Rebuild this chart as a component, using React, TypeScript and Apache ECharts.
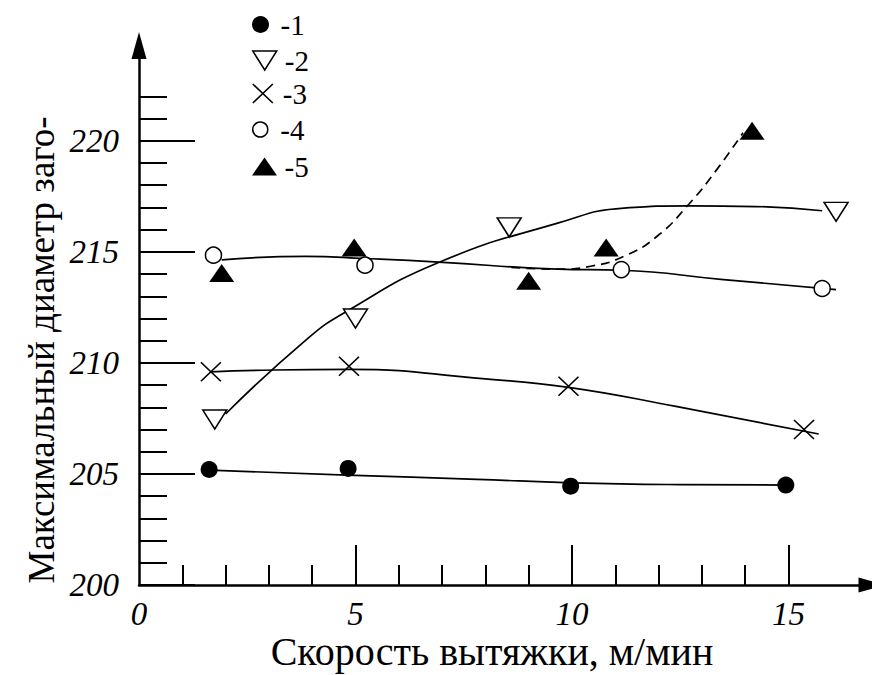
import React, { useEffect, useRef } from 'react';
import * as echarts from 'echarts';

// ---- Data ----
// Measured points (markers)
const s1X = [1.62, 4.83, 9.97, 14.94];
const s1Y = [205.2, 205.25, 204.45, 204.5];
const s2X = [1.75, 5.0, 8.55, 16.1];
const s2Y = [207.45, 212.0, 216.1, 216.8];
const s3X = [1.66, 4.85, 9.92, 15.36];
const s3Y = [209.6, 209.85, 208.95, 207.0];
const s4X = [1.72, 5.22, 11.14, 15.78];
const s4Y = [214.85, 214.4, 214.2, 213.35];
const s5X = [1.91, 4.97, 9.0, 10.79, 14.16];
const s5Y = [214.05, 215.2, 213.7, 215.2, 220.45];

// Fitted trend curves
const c1X = [1.62, 4.8, 7.8, 10.0, 12.5, 14.94];
const c1Y = [205.17, 204.95, 204.76, 204.6, 204.52, 204.5];
const c2X = [2.0, 3.86, 4.78, 6.92, 9.67, 11.2, 12.72, 14.25, 15.78];
const c2Y = [207.7, 211.04, 212.3, 214.52, 216.29, 216.97, 217.07, 217.04, 216.85];
const c3X = [1.66, 3.1, 4.85, 8.0, 9.92, 12.4, 15.7];
const c3Y = [209.6, 209.68, 209.71, 209.28, 208.9, 208.04, 206.8];
const c4X = [1.91, 3.86, 5.22, 6.92, 9.67, 11.14, 13.5, 16.1];
const c4Y = [214.64, 214.8, 214.7, 214.54, 214.22, 214.17, 213.75, 213.3];
const c5X = [8.6, 9.67, 10.43, 11.2, 11.96, 12.72, 13.34, 13.95];
const c5Y = [214.3, 214.22, 214.35, 214.8, 215.69, 217.19, 218.69, 220.36];

// Axis ticks / labels
const xLabelValues = [0, 5, 10, 15];
const xMajorTicks = [5, 10, 15];
const xMinorTicks = [1, 2, 3, 4, 6, 7, 8, 9, 11, 12, 13, 14];
const yLabelValues = [200, 205, 210, 215, 220];
const yMinorTicks = [201, 202, 203, 204, 206, 207, 208, 209, 211, 212, 213, 214, 216, 217, 218, 219, 221, 222];

const legendNames = ['-1', '-2', '-3', '-4', '-5'];
const xTitle = 'Скорость вытяжки, м/мин';
const yTitle = 'Максимальный диаметр заго-';

const X_MIN = 0;
const X_MAX = 16.93;
const Y_MIN = 200;
const Y_MAX = 224.29;

const FONT = 'Liberation Serif';
const TRI_DOWN = 'path://M0,0L24,0L12,19Z';
const TRI_UP = 'path://M12.5,0L25,18L0,18Z';
const CROSS = 'path://M0,0L20,19M20,0L0,19';

function pairs(xs: number[], ys: number[]) {
  return xs.map((x, i) => [x, ys[i]]);
}

export default function App() {
  const ref = useRef<HTMLDivElement>(null);

  useEffect(() => {
    if (!ref.current) return;
    const chart = echarts.init(ref.current, null, { renderer: 'svg' });
    const axisLineStyle = { color: '#000', width: 2.5 };
    const tickStyle = { color: '#000', width: 2 };

    const lineSeries = (data: number[][], dashed = false) => ({
      type: 'line',
      data,
      smooth: 0.5,
      symbol: 'none',
      showSymbol: false,
      silent: true,
      z: 2,
      lineStyle: { color: '#000', width: 1.7, type: dashed ? [9, 6] : 'solid' },
    });

    const rowY = [25, 61, 94, 130, 167];
    const legendIcons = [
      { icon: 'circle', h: 17, itemStyle: { color: '#000', borderWidth: 0 } },
      { icon: TRI_DOWN, h: 19, itemStyle: { color: '#fff', borderColor: '#000', borderWidth: 1.5 } },
      { icon: CROSS, h: 19, itemStyle: { color: '#000', borderColor: '#000', borderWidth: 1.6 } },
      { icon: 'circle', h: 15, itemStyle: { color: '#fff', borderColor: '#000', borderWidth: 1.5 } },
      { icon: TRI_UP, h: 18, itemStyle: { color: '#000', borderWidth: 0 } },
    ];

    const labelStyle = {
      fontFamily: FONT,
      fontStyle: 'italic',
      fontSize: 33,
      color: '#000',
    };

    const option: any = {
      animation: false,
      backgroundColor: '#fff',
      textStyle: { fontFamily: FONT },
      grid: { left: 139, top: 45.5, width: 737.5, height: 539.5, containLabel: false },
      legend: legendNames.map((name, i) => ({
        data: [{ name, icon: legendIcons[i].icon, itemStyle: legendIcons[i].itemStyle }],
        left: 252,
        top: rowY[i] - 15,
        itemWidth: 30,
        itemHeight: legendIcons[i].h,
        padding: 0,
        selectedMode: false,
        symbolKeepAspect: true,
        textStyle: { fontFamily: FONT, fontSize: 29, color: '#000' },
      })),
      xAxis: [
        {
          type: 'value',
          min: X_MIN,
          max: X_MAX,
          position: 'bottom',
          axisLine: {
            show: true,
            onZero: false,
            symbol: ['none', 'triangle'],
            symbolSize: [15, 27],
            lineStyle: axisLineStyle,
          },
          axisTick: { show: true, inside: true, length: 20, customValues: xMinorTicks, lineStyle: tickStyle },
          axisLabel: { customValues: xLabelValues, margin: 12, ...labelStyle },
          splitLine: { show: false },
        },
        {
          type: 'value',
          min: X_MIN,
          max: X_MAX,
          position: 'bottom',
          axisLine: { show: false, onZero: false },
          axisTick: { show: true, inside: true, length: 40, customValues: xMajorTicks, lineStyle: tickStyle },
          axisLabel: { show: false },
          splitLine: { show: false },
        },
      ],
      yAxis: [
        {
          type: 'value',
          min: Y_MIN,
          max: Y_MAX,
          position: 'left',
          axisLine: {
            show: true,
            onZero: false,
            symbol: ['none', 'triangle'],
            symbolSize: [15, 27],
            lineStyle: axisLineStyle,
          },
          axisTick: { show: true, inside: true, length: 56, customValues: yLabelValues, lineStyle: tickStyle },
          axisLabel: { customValues: yLabelValues, margin: 20, ...labelStyle },
          splitLine: { show: false },
        },
        {
          type: 'value',
          min: Y_MIN,
          max: Y_MAX,
          position: 'left',
          axisLine: { show: false, onZero: false },
          axisTick: { show: true, inside: true, length: 28, customValues: yMinorTicks, lineStyle: tickStyle },
          axisLabel: { show: false },
          splitLine: { show: false },
        },
      ],
      graphic: [
        {
          type: 'text',
          x: 492,
          y: 651,
          style: {
            text: xTitle,
            fontFamily: FONT,
            fontSize: 40,
            fill: '#000',
            textAlign: 'center',
            textVerticalAlign: 'middle',
          },
        },
        {
          type: 'text',
          x: 41,
          y: 350,
          rotation: Math.PI / 2,
          style: {
            text: yTitle,
            fontFamily: FONT,
            fontSize: 37,
            fill: '#000',
            textAlign: 'center',
            textVerticalAlign: 'middle',
          },
        },
      ],
      series: [
        lineSeries(pairs(c1X, c1Y)),
        lineSeries(pairs(c2X, c2Y)),
        lineSeries(pairs(c3X, c3Y)),
        lineSeries(pairs(c4X, c4Y)),
        lineSeries(pairs(c5X, c5Y), true),
        {
          name: '-1',
          type: 'scatter',
          data: pairs(s1X, s1Y),
          symbol: 'circle',
          symbolSize: 17,
          itemStyle: { color: '#000', opacity: 1 },
          z: 5,
        },
        {
          name: '-2',
          type: 'scatter',
          data: pairs(s2X, s2Y),
          symbol: TRI_DOWN,
          symbolSize: [24, 19],
          itemStyle: { color: '#fff', borderColor: '#000', borderWidth: 1.5, opacity: 1 },
          z: 5,
        },
        {
          name: '-3',
          type: 'scatter',
          data: pairs(s3X, s3Y),
          symbol: CROSS,
          symbolSize: [20, 19],
          itemStyle: { color: '#000', borderColor: '#000', borderWidth: 1.6, opacity: 1 },
          z: 5,
        },
        {
          name: '-4',
          type: 'scatter',
          data: pairs(s4X, s4Y),
          symbol: 'circle',
          symbolSize: 16,
          itemStyle: { color: '#fff', borderColor: '#000', borderWidth: 1.5, opacity: 1 },
          z: 5,
        },
        {
          name: '-5',
          type: 'scatter',
          data: pairs(s5X, s5Y),
          symbol: TRI_UP,
          symbolSize: [25, 18],
          itemStyle: { color: '#000', opacity: 1 },
          z: 5,
        },
      ],
    };

    chart.setOption(option);
    return () => chart.dispose();
  }, []);

  return (
    <div
      ref={ref}
      style={{ position: 'fixed', left: 0, top: 0, width: 872, height: 675, background: '#fff' }}
    />
  );
}
